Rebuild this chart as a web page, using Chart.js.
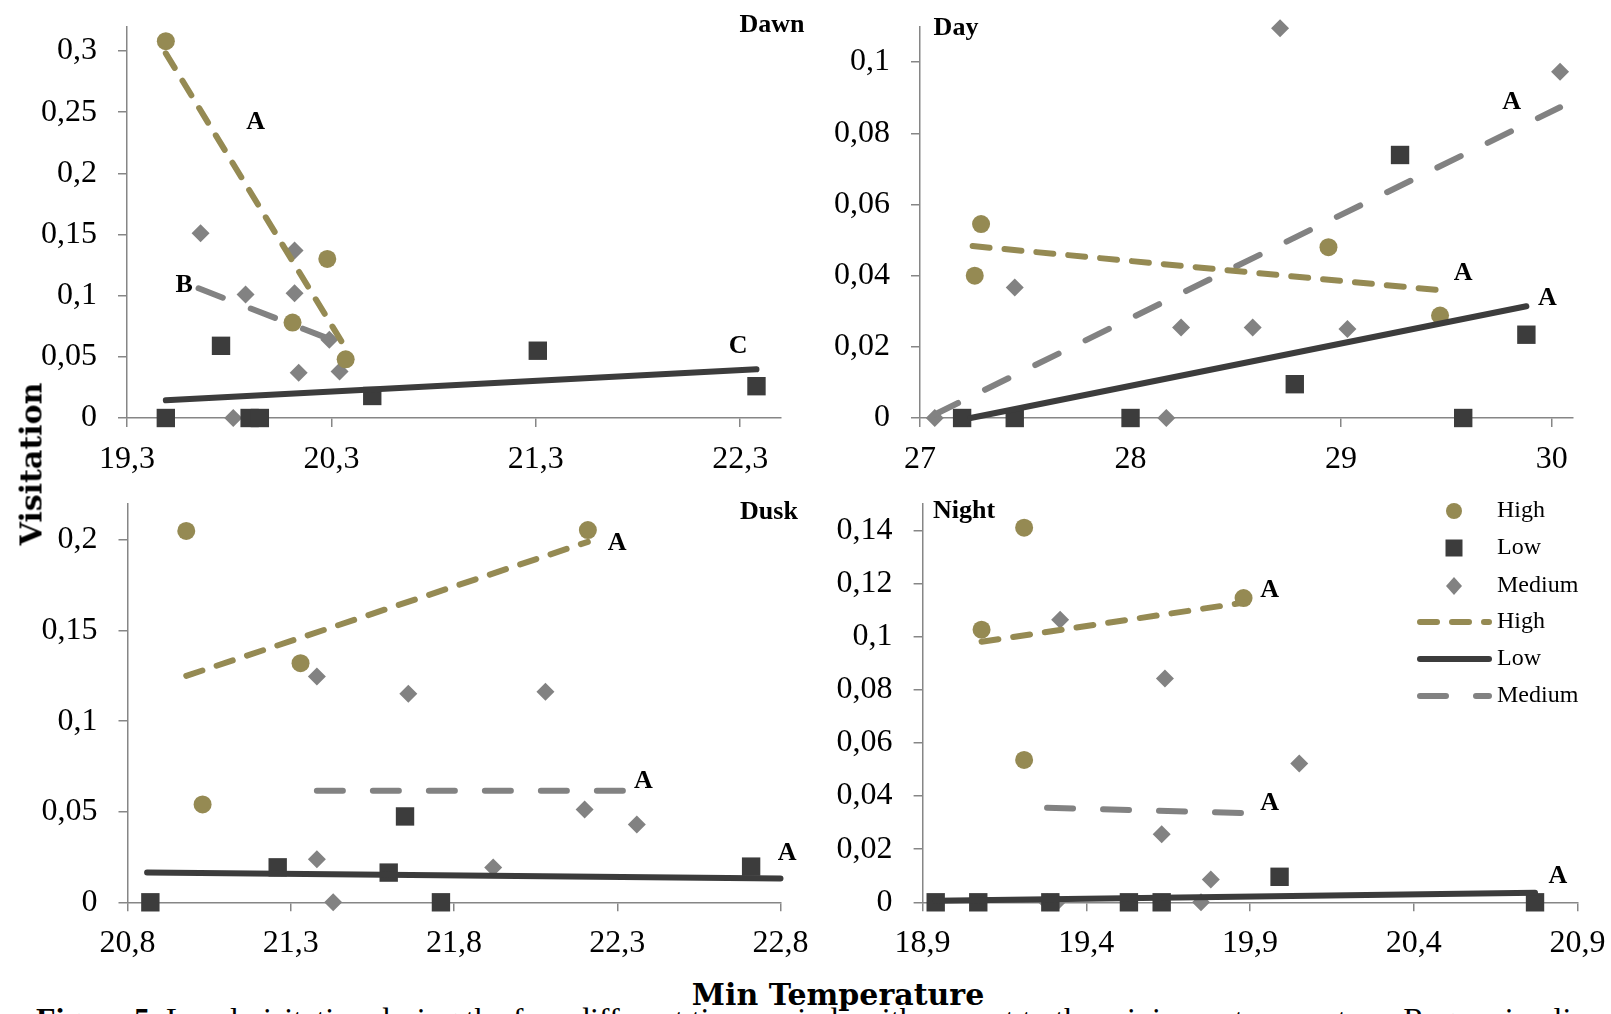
<!DOCTYPE html>
<html>
<head>
<meta charset="utf-8">
<script src="https://cdn.jsdelivr.net/npm/chart.js"></script>
<style>
  html, body { margin: 0; padding: 0; background: #fff; }
  body { width: 1611px; height: 1014px; position: relative; overflow: hidden; }
  canvas { position: absolute; }
  .txt { position: absolute; white-space: nowrap; color: #000; }
  #yTitle {
    left: 31px; top: 464px;
    font: bold 30px "DejaVu Serif", serif;
    transform: translate(-50%, -50%) rotate(-90deg);
  }
  #xTitle {
    left: 838px; top: 994px;
    font: bold 30px "DejaVu Serif", serif;
    transform: translate(-50%, -50%);
  }
  #caption {
    left: 36px; top: 1003px;
    font: 32px/32px "Liberation Serif", serif;
  }
</style>
</head>
<body>
<canvas id="dawn"></canvas>
<canvas id="day"></canvas>
<canvas id="dusk"></canvas>
<canvas id="night"></canvas>
<div class="txt" id="yTitle">Visitation</div>
<div class="txt" id="xTitle">Min Temperature</div>
<div class="txt" id="caption"><b>Figure 5.</b> Local visitation during the four different time periods with respect to the minimum temperature. Regression lines</div>

<script>
// ---- data ----
// Dawn
const dawnHighX = [19.49, 20.11, 20.28, 20.37];
const dawnHighY = [0.308, 0.078, 0.13, 0.048];
const dawnLowX = [19.49, 19.76, 19.9, 19.95, 20.5, 21.31, 22.38];
const dawnLowY = [0, 0.059, 0, 0, 0.018, 0.055, 0.026];
const dawnMedX = [19.66, 19.82, 19.88, 20.12, 20.12, 20.14, 20.29, 20.34];
const dawnMedY = [0.151, 0, 0.101, 0.137, 0.102, 0.037, 0.064, 0.038];
const dawnHighFitX = [19.49, 20.37];
const dawnHighFitY = [0.298, 0.057];
const dawnLowFitX = [19.49, 22.38];
const dawnLowFitY = [0.0145, 0.0398];
const dawnMedFitX = [19.65, 20.3];
const dawnMedFitY = [0.106, 0.064];
const dawnNotes = ["A", "B", "C"];
const dawnNoteX = [19.93, 19.58, 22.29];
const dawnNoteY = [0.242, 0.1085, 0.0589];
const dawnXTicks = [19.3, 20.3, 21.3, 22.3];
const dawnYTicks = [0, 0.05, 0.1, 0.15, 0.2, 0.25, 0.3];

// Day
const dayHighX = [27.26, 27.29, 28.94, 29.47];
const dayHighY = [0.04, 0.0545, 0.048, 0.0288];
const dayLowX = [27.2, 27.45, 28.0, 28.78, 29.28, 29.58, 29.88];
const dayLowY = [0, 0, 0, 0.0095, 0.0739, 0, 0.0234];
const dayMedX = [27.07, 27.45, 28.17, 28.24, 28.58, 28.71, 29.03, 30.04];
const dayMedY = [0, 0.0367, 0, 0.0254, 0.0254, 0.1095, 0.025, 0.0973];
const dayHighFitX = [27.25, 29.47];
const dayHighFitY = [0.0483, 0.0359];
const dayLowFitX = [27.24, 29.88];
const dayLowFitY = [0, 0.0314];
const dayMedFitX = [27.07, 30.04];
const dayMedFitY = [0.001, 0.0873];
const dayNotes = ["A", "A", "A"];
const dayNoteX = [29.81, 29.58, 29.98];
const dayNoteY = [0.0888, 0.0407, 0.0337];
const dayXTicks = [27, 28, 29, 30];
const dayYTicks = [0, 0.02, 0.04, 0.06, 0.08, 0.1];

// Dusk
const duskHighX = [20.98, 21.03, 21.33, 22.21];
const duskHighY = [0.205, 0.054, 0.132, 0.2055];
const duskLowX = [20.87, 21.26, 21.6, 21.65, 21.76, 22.71];
const duskLowY = [0, 0.0193, 0.0164, 0.0474, 0, 0.0197];
const duskMedX = [21.38, 21.38, 21.43, 21.66, 21.92, 22.08, 22.2, 22.36];
const duskMedY = [0.1246, 0.0238, 0, 0.1152, 0.0192, 0.1162, 0.0513, 0.0429];
const duskHighFitX = [20.98, 22.21];
const duskHighFitY = [0.125, 0.199];
const duskLowFitX = [20.86, 22.8];
const duskLowFitY = [0.0164, 0.0131];
const duskMedFitX = [21.38, 22.32];
const duskMedFitY = [0.0616, 0.0616];
const duskNotes = ["A", "A", "A"];
const duskNoteX = [22.3, 22.38, 22.82];
const duskNoteY = [0.198, 0.0667, 0.0273];
const duskXTicks = [20.8, 21.3, 21.8, 22.3, 22.8];
const duskYTicks = [0, 0.05, 0.1, 0.15, 0.2];

// Night
const nightHighX = [19.08, 19.21, 19.21, 19.88];
const nightHighY = [0.1026, 0.141, 0.0536, 0.1145];
const nightLowX = [18.94, 19.07, 19.29, 19.53, 19.63, 19.99, 20.77];
const nightLowY = [0, 0, 0, 0, 0, 0.0096, 0];
const nightMedX = [19.28, 19.31, 19.32, 19.63, 19.64, 19.75, 19.78, 20.05];
const nightMedY = [0, 0, 0.1064, 0.0256, 0.0842, 0, 0.0086, 0.0522];
const nightHighFitX = [19.08, 19.88];
const nightHighFitY = [0.0981, 0.1128];
const nightLowFitX = [18.94, 20.77];
const nightLowFitY = [0.0006, 0.0036];
const nightMedFitX = [19.28, 19.88];
const nightMedFitY = [0.0356, 0.0336];
const nightNotes = ["A", "A", "A"];
const nightNoteX = [19.96, 19.96, 20.84];
const nightNoteY = [0.1173, 0.0372, 0.0099];
const nightXTicks = [18.9, 19.4, 19.9, 20.4, 20.9];
const nightYTicks = [0, 0.02, 0.04, 0.06, 0.08, 0.1, 0.12, 0.14];

const legendLabels = ["High", "Low", "Medium", "High", "Low", "Medium"];

// ---- styles ----
const HIGH = "#958a53";
const LOW = "#3c3c3c";
const MED = "#828282";
const AXIS = "#868686";
const SERIF = '"Liberation Serif", serif';

document.addEventListener("readystatechange", (event) => {
  if (event.target.readyState === "complete") {
    initApp();
  }
});

const initApp = () => {
  Chart.defaults.font.family = SERIF;
  Chart.defaults.color = "#000";

  panel("dawn", { x: 0, y: 0, w: 830, h: 480 },
    { left: 127, right: 781, top: 26.5, bottom: 418 },
    [19.3, 22.5], [0, 0.32], dawnXTicks, dawnYTicks,
    [dawnHighX, dawnHighY, dawnLowX, dawnLowY, dawnMedX, dawnMedY],
    [dawnHighFitX, dawnHighFitY, dawnLowFitX, dawnLowFitY, dawnMedFitX, dawnMedFitY],
    [dawnNotes, dawnNoteX, dawnNoteY],
    { text: "Dawn", x: 772, y: 25 }, false);

  panel("day", { x: 830, y: 0, w: 781, h: 480 },
    { left: 920, right: 1572.7, top: 26.5, bottom: 418 },
    [27, 30.1], [0, 0.11], dayXTicks, dayYTicks,
    [dayHighX, dayHighY, dayLowX, dayLowY, dayMedX, dayMedY],
    [dayHighFitX, dayHighFitY, dayLowFitX, dayLowFitY, dayMedFitX, dayMedFitY],
    [dayNotes, dayNoteX, dayNoteY],
    { text: "Day", x: 956, y: 28 }, false);

  panel("dusk", { x: 0, y: 480, w: 830, h: 495 },
    { left: 127.5, right: 780.5, top: 503.8, bottom: 902.3 },
    [20.8, 22.8], [0, 0.22], duskXTicks, duskYTicks,
    [duskHighX, duskHighY, duskLowX, duskLowY, duskMedX, duskMedY],
    [duskHighFitX, duskHighFitY, duskLowFitX, duskLowFitY, duskMedFitX, duskMedFitY],
    [duskNotes, duskNoteX, duskNoteY],
    { text: "Dusk", x: 769, y: 512 }, false);

  panel("night", { x: 830, y: 480, w: 781, h: 495 },
    { left: 922.6, right: 1577.6, top: 503.8, bottom: 902.3 },
    [18.9, 20.9], [0, 0.15], nightXTicks, nightYTicks,
    [nightHighX, nightHighY, nightLowX, nightLowY, nightMedX, nightMedY],
    [nightHighFitX, nightHighFitY, nightLowFitX, nightLowFitY, nightMedFitX, nightMedFitY],
    [nightNotes, nightNoteX, nightNoteY],
    { text: "Night", x: 964, y: 511 }, true);
};

// querySelector function
function qs(selector, parent = document) {
  return parent.querySelector(selector);
}

function toPoints(xs, ys) {
  return xs.map((x, i) => ({ x: x, y: ys[i] }));
}

function comma(v) {
  return String(v).replace(".", ",");
}

function markerSet(label, xs, ys, color, shape, radius) {
  return {
    label: label,
    data: toPoints(xs, ys),
    showLine: false,
    pointStyle: shape,
    pointRadius: radius,
    pointHoverRadius: radius,
    pointBackgroundColor: color,
    pointBorderWidth: 0,
    order: 2,
    clip: false,
  };
}

function fitSet(label, xs, ys, color, dash) {
  return {
    label: label,
    data: toPoints(xs, ys),
    showLine: true,
    pointRadius: 0,
    borderColor: color,
    borderWidth: 6,
    borderDash: dash,
    borderCapStyle: "round",
    order: 1,
    clip: false,
  };
}

// small shapes for the legend
function shape(ctx, kind, x, y, color) {
  ctx.fillStyle = color;
  ctx.beginPath();
  if (kind === "circle") {
    ctx.arc(x, y, 8, 0, Math.PI * 2);
  } else if (kind === "rect") {
    ctx.rect(x - 8.5, y - 8.5, 17, 17);
  } else {
    ctx.moveTo(x, y - 9);
    ctx.lineTo(x + 8, y);
    ctx.lineTo(x, y + 9);
    ctx.lineTo(x - 8, y);
    ctx.closePath();
  }
  ctx.fill();
}

function drawLegend(ctx, box) {
  const mx = 1454 - box.x;
  const tx = 1497 - box.x;
  const rows = [511, 548, 586, 622, 659, 696].map((v) => v - box.y);
  const kinds = ["circle", "rect", "diamond"];
  const colors = [HIGH, LOW, MED];
  const dashes = [[17, 15], [], [26, 30]];

  ctx.save();
  for (let i = 0; i < 3; i++) {
    shape(ctx, kinds[i], mx, rows[i], colors[i]);
  }
  for (let i = 0; i < 3; i++) {
    ctx.strokeStyle = colors[i];
    ctx.lineWidth = 6;
    ctx.lineCap = "round";
    ctx.setLineDash(dashes[i]);
    ctx.beginPath();
    ctx.moveTo(1420 - box.x, rows[i + 3]);
    ctx.lineTo(1489 - box.x, rows[i + 3]);
    ctx.stroke();
  }
  ctx.setLineDash([]);
  ctx.fillStyle = "#000";
  ctx.font = "24px " + SERIF;
  ctx.textAlign = "left";
  ctx.textBaseline = "middle";
  legendLabels.forEach((t, i) => ctx.fillText(t, tx, rows[i]));
  ctx.restore();
}

function panel(id, box, area, xRange, yRange, xTicks, yTicks, series, fits, notes, title, withLegend) {
  const canvas = qs("#" + id);
  canvas.width = box.w;
  canvas.height = box.h;
  canvas.style.left = box.x + "px";
  canvas.style.top = box.y + "px";

  const [hx, hy, lx, ly, mx, my] = series;
  const [fhx, fhy, flx, fly, fmx, fmy] = fits;

  const extras = {
    id: "extras",
    afterDraw(chart) {
      const ctx = chart.ctx;
      const xs = chart.scales.x;
      const ys = chart.scales.y;
      ctx.save();
      ctx.fillStyle = "#000";
      ctx.textAlign = "center";
      ctx.textBaseline = "middle";
      ctx.font = "bold 26px " + SERIF;
      const [texts, nx, ny] = notes;
      texts.forEach((t, i) => {
        ctx.fillText(t, xs.getPixelForValue(nx[i]), ys.getPixelForValue(ny[i]));
      });
      ctx.fillText(title.text, title.x - box.x, title.y - box.y);
      ctx.restore();
      if (withLegend) drawLegend(ctx, box);
    },
  };

  new Chart(canvas.getContext("2d"), {
    type: "scatter",
    data: {
      datasets: [
        fitSet("High", fhx, fhy, HIGH, [17, 15]),
        fitSet("Low", flx, fly, LOW, []),
        fitSet("Medium", fmx, fmy, MED, [26, 30]),
        markerSet("High", hx, hy, HIGH, "circle", 9),
        markerSet("Low", lx, ly, LOW, "rect", 13),
        markerSet("Medium", mx, my, MED, "rectRot", 9),
      ],
    },
    options: {
      responsive: false,
      animation: false,
      devicePixelRatio: 1,
      layout: {
        padding: {
          left: 0,
          bottom: 0,
          top: area.top - box.y,
          right: box.x + box.w - area.right,
        },
      },
      plugins: {
        legend: { display: false },
        tooltip: { enabled: false },
      },
      scales: {
        x: {
          type: "linear",
          min: xRange[0],
          max: xRange[1],
          afterBuildTicks: (s) => {
            s.ticks = xTicks.map((v) => ({ value: v }));
          },
          afterFit: (s) => {
            s.height = box.y + box.h - area.bottom;
            s.paddingLeft = 0;
            s.paddingRight = 0;
          },
          ticks: {
            autoSkip: false,
            maxRotation: 0,
            padding: 13,
            font: { size: 32 },
            callback: (v) => comma(v),
          },
          grid: {
            drawOnChartArea: false,
            drawTicks: true,
            tickLength: 9,
            tickColor: AXIS,
            lineWidth: 1.5,
          },
          border: { color: AXIS, width: 1.5 },
        },
        y: {
          type: "linear",
          min: yRange[0],
          max: yRange[1],
          afterBuildTicks: (s) => {
            s.ticks = yTicks.map((v) => ({ value: v }));
          },
          afterFit: (s) => {
            s.width = area.left - box.x;
            s.paddingTop = 0;
            s.paddingBottom = 0;
          },
          ticks: {
            autoSkip: false,
            padding: 21,
            font: { size: 32 },
            callback: (v) => comma(v),
          },
          grid: {
            drawOnChartArea: false,
            drawTicks: true,
            tickLength: 9,
            tickColor: AXIS,
            lineWidth: 1.5,
          },
          border: { color: AXIS, width: 1.5 },
        },
      },
    },
    plugins: [extras],
  });
}
</script>
</body>
</html>
